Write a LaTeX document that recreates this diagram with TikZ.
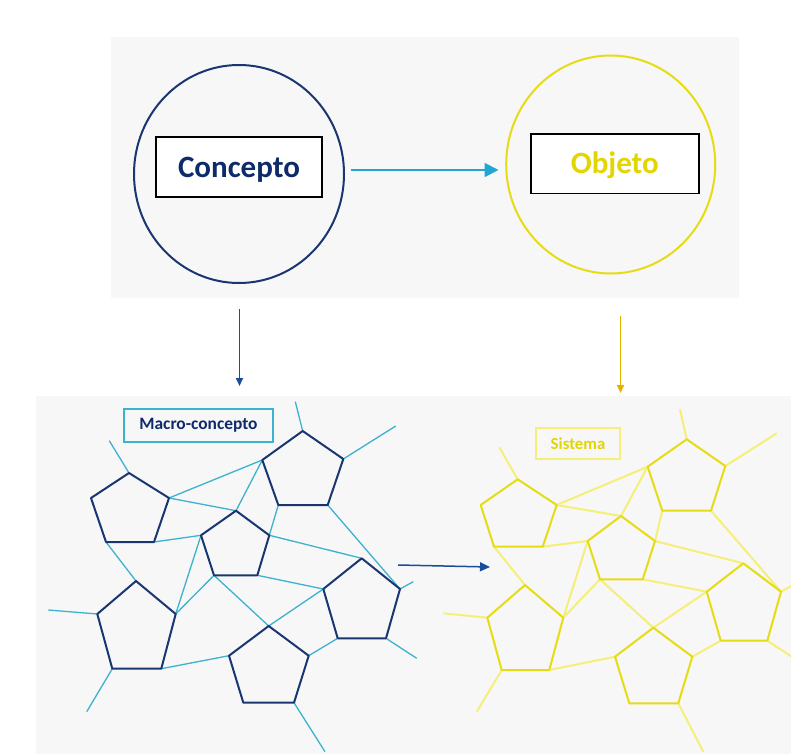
\documentclass[tikz,border=0pt]{standalone}
\usepackage{fontspec}
\setmainfont{Carlito}
\usetikzlibrary{arrows.meta,shapes.geometric}
\definecolor{navy}{HTML}{1A3670}
\definecolor{navytext}{HTML}{0D2B6B}
\definecolor{cyanl}{HTML}{3DB2CE}
\definecolor{arrowcyan}{HTML}{22A6D6}
\definecolor{ylw}{HTML}{E6DC14}
\definecolor{ylwpale}{HTML}{F5EF7A}
\definecolor{ylwtext}{HTML}{E3D500}
\definecolor{gold}{HTML}{E6B000}
\definecolor{downblue}{HTML}{1A4C9C}
\definecolor{panel}{HTML}{F7F7F7}
\newcommand\mkpent[6]{%
  \coordinate (#1-1) at (#2);
  \coordinate (#1-2) at (#3);
  \coordinate (#1-3) at (#4);
  \coordinate (#1-4) at (#5);
  \coordinate (#1-5) at (#6);}
\tikzset{
  pentL/.style={draw=navy, line width=2pt, line join=round},
  linkL/.style={draw=cyanl, line width=1.3pt},
  pentR/.style={draw=ylw, line width=2pt, line join=round},
  linkR/.style={draw=ylwpale, line width=2pt},
  bigellipse/.style={ellipse, draw, line width=2pt, inner sep=0pt},
  titlebox/.style={draw=black, line width=1.4pt, fill=white, inner sep=0pt, text height=20pt, text depth=0pt, font=\bfseries\fontsize{31}{31}\selectfont},
}
\begin{document}
\begin{tikzpicture}[x=1pt,y=-1pt]
\useasboundingbox (0,0) rectangle (791,754);
\fill[white] (0,0) rectangle (791,754);
\fill[panel] (111,37) rectangle (739,298);
\fill[panel] (36,396) rectangle (791,754);

% top
\node[bigellipse, draw=navy, minimum width=210pt, minimum height=218pt] (concepto) at (239,174) {};
\node[bigellipse, draw=ylw, minimum width=209pt, minimum height=218pt] (objeto) at (610.7,164.5) {};
\node[titlebox, text=navytext, minimum width=166pt, minimum height=60pt] (cbox) at (239,167) {Concepto};
\node[titlebox, text=ylwtext, minimum width=168pt, minimum height=59pt] (obox) at (614.8,163.7) {Objeto};

\coordinate (h1) at (350.7,170);
\coordinate (h2) at (498.5,170);
\draw[arrowcyan, line width=1.8pt, -{Triangle[length=14pt,width=14pt]}] (h1) -- (h2);

\coordinate (dl1) at (239.5,309);
\coordinate (dl2) at (239.5,386);
\draw[downblue, line width=1.8pt, -{Triangle[length=8pt,width=7pt]}] (dl1) -- (dl2);
\coordinate (dr1) at (620.5,316);
\coordinate (dr2) at (620.5,393);
\draw[gold, line width=1.8pt, -{Triangle[length=8pt,width=7pt]}] (dr1) -- (dr2);

\coordinate (m1) at (398,565);
\coordinate (m2) at (490,567);
\draw[downblue, line width=1.5pt, -{Triangle[length=10pt,width=9pt]}] (m1) -- (m2);

% left network
\mkpent{A}{129,473}{169,498}{154,542}{106,542}{91,498}
\mkpent{B}{302.7,431}{343.3,459}{327.7,505}{278.3,505}{262.3,460}
\mkpent{C}{236,510.7}{269.3,535.3}{257.3,575.3}{214,575.3}{201,535.3}
\mkpent{D}{361.7,558.3}{400,589}{386,638.3}{337.7,638.3}{323.3,589}
\mkpent{E}{136,581}{175.7,614}{161.3,668.7}{112.3,668.7}{97.3,614}
\mkpent{F}{268.7,626}{308.7,655.7}{294,702.7}{243.3,702.7}{229,655.7}
\coordinate (sA) at (109.3,440.7);
\coordinate (sB1) at (295.3,401.7);
\coordinate (sB2) at (395.7,426);
\coordinate (sD2) at (413.3,581.7);
\coordinate (sD3) at (416.7,658.3);
\coordinate (sE5) at (48.3,610);
\coordinate (sE4) at (86.7,711.7);
\coordinate (sF3) at (325,751.7);
\foreach \p/\q in {A-1/sA, A-2/B-5, A-2/C-1, A-3/C-5, A-4/E-1, B-1/sB1, B-2/sB2,
  B-5/C-1, B-4/C-2, B-3/D-2, C-2/D-1, C-5/E-2, C-4/E-2, C-4/F-1, C-3/D-5, D-5/F-1,
  D-2/sD2, D-3/sD3, D-4/F-2, E-5/sE5, E-4/sE4, E-3/F-5, F-3/sF3}
  \draw[linkL] (\p) -- (\q);
\foreach \n in {A,B,C,D,E,F}
  \draw[pentL] (\n-1) -- (\n-2) -- (\n-3) -- (\n-4) -- (\n-5) -- cycle;

% right network
\mkpent{a}{517.7,479.3}{556.7,505}{542.7,546.7}{494,546.7}{480.7,505}
\mkpent{b}{686.7,439.3}{725.3,466}{711,510.7}{662.3,510.7}{647.7,466.7}
\mkpent{c}{621,516}{655,541}{642.7,579.3}{600,579.3}{587.7,541}
\mkpent{d}{743.3,563.3}{781,591.7}{767.3,640.7}{720.7,640.7}{706.7,591.7}
\mkpent{e}{525,585}{563.3,617.7}{549.3,670}{501.7,670}{487.3,617.7}
\mkpent{f}{653.3,627.7}{692.3,656.7}{678.3,703.3}{629.3,703.3}{615,656.7}
\coordinate (ta) at (499.3,447.3);
\coordinate (tb1) at (680,409.3);
\coordinate (tb2) at (776.7,433.3);
\coordinate (td2) at (795,584);
\coordinate (td3) at (793,657.5);
\coordinate (te5) at (443.3,613.3);
\coordinate (te4) at (476.7,711.7);
\coordinate (tf3) at (703.3,751.7);
\foreach \p/\q in {a-1/ta, a-2/b-5, a-2/c-1, a-3/c-5, a-4/e-1, b-1/tb1, b-2/tb2,
  b-5/c-1, b-4/c-2, b-3/d-2, c-2/d-1, c-5/e-2, c-4/e-2, c-4/f-1, c-3/d-5, d-5/f-1,
  d-2/td2, d-3/td3, d-4/f-2, e-5/te5, e-4/te4, e-3/f-5, f-3/tf3}
  \draw[linkR] (\p) -- (\q);
\foreach \n in {a,b,c,d,e,f}
  \draw[pentR] (\n-1) -- (\n-2) -- (\n-3) -- (\n-4) -- (\n-5) -- cycle;

% labels
\node[draw=cyanl, line width=1.2pt, inner sep=0pt, minimum width=149pt, minimum height=33pt,
  text=navytext, font=\bfseries\fontsize{17.4}{17.4}\selectfont] (macro) at (198.5,425.5) {Macro-concepto};
\node[draw=ylwpale, line width=2pt, inner sep=0pt, minimum width=84pt, minimum height=31pt,
  text=ylwtext, font=\bfseries\fontsize{16.8}{16.8}\selectfont] (sistema) at (578,443.5) {Sistema};
\end{tikzpicture}
\end{document}
